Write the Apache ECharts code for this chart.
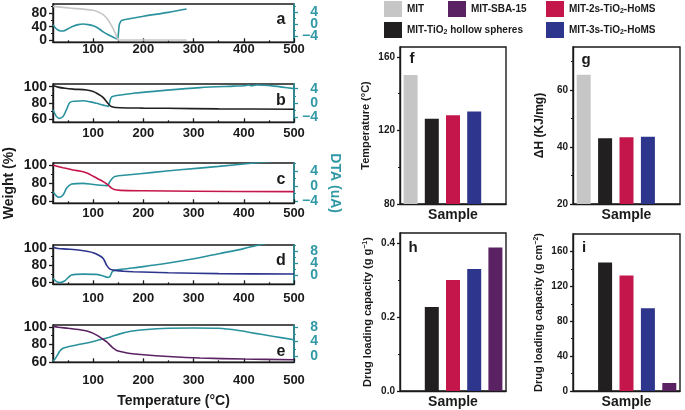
<!DOCTYPE html>
<html><head><meta charset="utf-8">
<script src="https://cdn.jsdelivr.net/npm/echarts@6/dist/echarts.min.js"></script>
<style>html,body{margin:0;padding:0;background:#fff}#c{width:685px;height:410px}</style>
</head><body><div id="c"></div>
<script>
const FONT = '"Liberation Sans", Arial, Helvetica, sans-serif';
const INK = '#1a1a1a';
const TEAL = '#2a929d';
const TEAL_TXT = '#3199a5';

// ---- samples / bar data ----
const sampleNames = ['MIT', 'MIT-TiO₂ hollow spheres', 'MIT-2s-TiO₂-HoMS', 'MIT-3s-TiO₂-HoMS', 'MIT-SBA-15'];
const sampleColors = ['#c6c6c6', '#221f20', '#c4164b', '#2d358c', '#5b2263'];
const peakTemperature = [150.2, 126.4, 128.3, 130.3, null];
const enthalpy = [65.3, 43.0, 43.4, 43.6, null];
const loadingPerGram = [null, 0.227, 0.300, 0.330, 0.388];
const loadingPerArea = [null, 147.3, 132.4, 94.8, 9.2];

// ---- tick labels ----
const tempTicks = [100, 200, 300, 400, 500];
const tempMinorTicks = [50, 150, 250, 350, 450];
const weightTicksA = [0, 40, 80];
const weightMinorA = [20, 60, 100];
const weightTicks = [60, 80, 100];
const weightMinor = [70, 90];
const dtaTicksNeg = [-4, 0, 4];
const dtaMinorNeg = [-2, 2, 6];
const dtaTicksPos = [0, 4, 8];
const dtaMinorPos = [2, 6, 10];
const tempBarTicks = [80, 120, 160];
const tempBarMinor = [100, 140];
const enthalpyTicks = [20, 40, 60];
const enthalpyMinor = [30, 50, 70];
const gramTicks = [0, 0.2, 0.4];
const gramMinor = [0.1, 0.3];
const areaTicks = [0, 40, 80, 120, 160];
const areaMinor = [20, 60, 100, 140];

// ---- TG (weight %) and DTA curves: [temperature °C, value] ----
const tgA = [[20,101],[30,99.5],[40,98],[50,96.5],[60,95],[80,92.5],[100,89],[110,84],[120,76],[127,65],[134,50],[140,33],[144,20],[148,5],[150,0],[200,0],[286,0]];
const dtaA = [[20,-0.2],[25,-1.2],[30,-1.9],[35,-2.2],[40,-2.2],[50,-1.5],[60,-0.6],[70,-0.1],[80,0.1],[90,-0.1],[100,-0.5],[110,-1.3],[120,-2.5],[130,-3.5],[140,-4.3],[148,-4.9],[150,-3.5],[152,-0.2],[155,1.0],[158,1.4],[170,1.8],[200,2.7],[250,4.0],[286,5.1]];
const tgB = [[20,101.5],[30,99.5],[44,98],[60,97],[87,96],[100,94],[107,92],[115,89],[121,86],[126,82],[131,78.4],[137,75.5],[154,74.2],[200,73.7],[247,73.5],[350,72.8],[500,72.3]];
const dtaB = [[20,-1.9],[26,-3.6],[32,-4.3],[40,-3.8],[47,-1.8],[54,0.2],[65,0.5],[80,0.6],[95,0.3],[107,-0.1],[120,-0.6],[127,-0.8],[130,-1.0],[135,1.3],[140,1.9],[180,2.7],[247,3.6],[313,4.3],[380,4.7],[400,4.8],[410,5.0],[415,4.8],[425,5.0],[460,4.7],[500,4.0]];
const tgC = [[20,100],[30,98.3],[40,97],[50,95.8],[60,94.5],[80,92.5],[90,90.5],[100,87.5],[110,84.5],[120,81.5],[130,77.5],[136,74.5],[142,72.8],[154,71.8],[200,71.3],[300,70.8],[500,70.4]];
const dtaC = [[20,-1.5],[27,-2.7],[32,-3.0],[40,-2.4],[47,-0.6],[57,0.5],[80,0.7],[100,0.4],[115,0.2],[128,0.1],[133,1.1],[138,2.0],[143,2.5],[167,2.9],[220,3.6],[273,4.3],[350,5.2],[420,6.1],[500,7.0]];
const tgD = [[20,101],[30,99.5],[47,98.8],[74,97.5],[90,96],[100,94.6],[110,92],[120,88],[127,80],[133,76],[140,74.5],[160,73.3],[180,72.7],[250,71.5],[350,70.5],[500,70]];
const dtaD = [[20,-0.9],[27,-2.0],[33,-2.3],[43,-1.8],[57,0.2],[80,0.5],[107,0.4],[120,-0.1],[128,-0.6],[133,-0.4],[138,1.3],[143,1.8],[160,2.2],[200,3.0],[247,4.1],[300,5.6],[350,7.3],[400,9.0],[430,10.2],[500,12.6]];
const tgE = [[20,101],[30,99.8],[50,98.5],[80,96.3],[95,94],[107,90.7],[117,87],[127,83],[134,79],[140,75.7],[147,73.2],[154,71.9],[170,70],[200,68.2],[250,66.2],[313,64.5],[400,63.3],[500,62.6]];
const dtaE = [[20,-1.2],[24,-0.7],[29,0.4],[34,1.5],[40,2.2],[50,2.6],[67,3.1],[90,3.7],[113,4.5],[133,5.2],[153,6.1],[175,6.8],[207,7.3],[250,7.6],[300,7.7],[350,7.6],[390,7.0],[420,6.3],[460,5.4],[500,4.5]];

const leftPanels = [
  {top:4,   height:38.3, tg:tgA, dta:dtaA, wMin:-7,   wMax:108,   wTicks:weightTicksA, wMinor:weightMinorA, dMin:-6,   dMax:6.8,  dTicks:dtaTicksNeg, dMinor:dtaMinorNeg, xm:1,  letter:'a', ly:20},
  {top:84,  height:38.3, tg:tgB, dta:dtaB, wMin:56.3, wMax:103.3, wTicks:weightTicks,  wMinor:weightMinor,  dMin:-5.4, dMax:5.3,  dTicks:dtaTicksNeg, dMinor:dtaMinorNeg, xm:5,  letter:'b', ly:101},
  {top:163, height:40.3, tg:tgC, dta:dtaC, wMin:57.4, wMax:102.2, wTicks:weightTicks,  wMinor:weightMinor,  dMin:-4.6, dMax:6.1,  dTicks:dtaTicksNeg, dMinor:dtaMinorNeg, xm:4,  letter:'c', ly:180},
  {top:245, height:39.3, tg:tgD, dta:dtaD, wMin:58.2, wMax:103.5, wTicks:weightTicks,  wMinor:weightMinor,  dMin:-2.9, dMax:10.2, dTicks:dtaTicksPos, dMinor:dtaMinorPos, xm:8,  letter:'d', ly:261},
  {top:325, height:37.3, tg:tgE, dta:dtaE, wMin:59.6, wMax:102.3, wTicks:weightTicks,  wMinor:weightMinor,  dMin:-1.6, dMax:8.5,  dTicks:dtaTicksPos, dMinor:dtaMinorPos, xm:12, letter:'e', ly:352}
];

const barPanels = [
  {left:400, top:47,  width:106, height:157, values:peakTemperature, min:80, max:165.4, ticks:tempBarTicks, minor:tempBarMinor, name:'Temperature (°C)', nameGap:29, nameSize:11, letter:'f', lx:412, ly:59, dec:0},
  {left:573, top:47,  width:107, height:157, values:enthalpy,        min:20, max:75,    ticks:enthalpyTicks, minor:enthalpyMinor, name:'ΔH (KJ/mg)', nameGap:27, nameSize:12, letter:'g', lx:586, ly:60, dec:0},
  {left:400, top:233, width:106, height:158, values:loadingPerGram,  min:0,  max:0.427, ticks:gramTicks, minor:gramMinor, name:'Drug loading capacity (g g{sup|−1})', nameGap:27, nameSize:11, letter:'h', lx:413, ly:248, dec:1},
  {left:573, top:234, width:107, height:157, values:loadingPerArea,  min:0,  max:180,   ticks:areaTicks, minor:areaMinor, name:'Drug loading capacity (g cm{sup|−2})', nameGap:29, nameSize:11, letter:'i', lx:584, ly:248, dec:0}
];

const within = (arr, lo, hi) => arr.filter(v => v >= lo && v <= hi);
const evens = arr => arr.filter((_, k) => k % 2 === 0);
const odds = arr => arr.filter((_, k) => k % 2 === 1);
const fmtNum = v => (v < 0 ? '−' + Math.abs(v) : String(v));
const boldText = (size, color) => ({fontFamily: FONT, fontWeight: 'bold', fontSize: size, color: color || INK});
const labelBase = {hideOverlap:false, showMinLabel:true, showMaxLabel:true};

const option = {
  animation: false,
  backgroundColor: '#fff',
  textStyle: {fontFamily: FONT},
  grid: [], xAxis: [], yAxis: [], series: [], legend: [], graphic: []
};
const addX = a => (option.xAxis.push(a), option.xAxis.length - 1);
const addY = a => (option.yAxis.push(a), option.yAxis.length - 1);

// A value y-axis whose labels are split over two stacked axes so that
// tightly spaced labels are never dropped by overlap handling.
function addValueY(gi, min, max, pos, ticks, minor, color, label, extra) {
  const main = addY(Object.assign({
    type:'value', gridIndex:gi, min, max, position:pos,
    axisLine:{show:true, onZero:false, lineStyle:{color, width:1.4}},
    axisTick:{show:true, length:label.tick, customValues:ticks, lineStyle:{color, width:1.3}},
    axisLabel:Object.assign({customValues:evens(ticks)}, labelBase, label.style),
    splitLine:{show:false}
  }, extra || {}));
  addY({
    type:'value', gridIndex:gi, min, max, position:pos,
    axisLine:{show:false, onZero:false}, axisTick:{show:false},
    axisLabel:Object.assign({customValues:odds(ticks)}, labelBase, label.style),
    splitLine:{show:false}
  });
  addY({
    type:'value', gridIndex:gi, min, max, position:pos,
    axisLine:{show:false, onZero:false},
    axisTick:{show:true, length:2, customValues:within(minor, min, max), lineStyle:{color, width:1.2}},
    axisLabel:{show:false}, splitLine:{show:false}
  });
  return main;
}

// ---- left TG/DTA panels ----
leftPanels.forEach((p, i) => {
  option.grid.push({left:53, width:241, top:p.top, height:p.height, show:true, borderColor:INK, borderWidth:1.4, backgroundColor:'transparent'});
  const xMain = {
    type:'value', gridIndex:i, min:20, max:500, position:'bottom',
    axisLine:{show:true, onZero:false, lineStyle:{color:INK, width:1.4}},
    axisTick:{show:true, inside:true, length:4, customValues:tempTicks, lineStyle:{color:INK, width:1.3}},
    axisLabel:Object.assign({show:true, customValues:tempTicks, margin:p.xm}, labelBase, boldText(13)),
    splitLine:{show:false}
  };
  if (i === 4) {
    Object.assign(xMain, {name:'Temperature (°C)', nameLocation:'middle', nameGap:32, nameTextStyle:boldText(14)});
  }
  const xi = addX(xMain);
  addX({
    type:'value', gridIndex:i, min:20, max:500, position:'bottom',
    axisLine:{show:false, onZero:false},
    axisTick:{show:true, inside:true, length:2, customValues:tempMinorTicks, lineStyle:{color:INK, width:1.2}},
    axisLabel:{show:false}, splitLine:{show:false}
  });
  const yw = addValueY(i, p.wMin, p.wMax, 'left', p.wTicks, p.wMinor, INK,
    {tick:4, style:Object.assign({margin:6}, boldText(14))},
    i === 2 ? {name:'Weight (%)', nameLocation:'middle', nameGap:37, nameTextStyle:boldText(14)} : null);
  const yd = addValueY(i, p.dMin, p.dMax, 'right', p.dTicks, p.dMinor, TEAL,
    {tick:4, style:Object.assign({margin:24, align:'right', formatter:fmtNum}, boldText(14, TEAL_TXT))},
    i === 2 ? {name:'DTA (uA)', nameLocation:'middle', nameRotate:-90, nameGap:34, nameTextStyle:boldText(14, TEAL_TXT)} : null);
  option.yAxis[yd].axisLine.lineStyle.width = 1.5;
  option.series.push({
    type:'line', xAxisIndex:xi, yAxisIndex:yw, data:p.tg, symbol:'none', smooth:0.3, clip:true,
    lineStyle:{color:sampleColors[i], width:1.6}, z:3
  });
  option.series.push({
    type:'line', xAxisIndex:xi, yAxisIndex:yd, data:p.dta, symbol:'none', smooth:0.3, clip:true,
    lineStyle:{color:TEAL, width:1.6}, z:2
  });
  option.graphic.push({type:'text', x:281, y:p.ly, z:10, style:{text:p.letter, textAlign:'center', textVerticalAlign:'middle', fill:INK, font:'bold 16px ' + FONT}});
});

// ---- right bar panels ----
barPanels.forEach((p, j) => {
  const gi = 5 + j;
  option.grid.push({left:p.left, width:p.width, top:p.top, height:p.height, show:true, borderColor:INK, borderWidth:1.4, backgroundColor:'transparent'});
  const xi = addX({
    type:'category', gridIndex:gi, data:sampleNames, position:'bottom',
    axisLine:{show:true, onZero:false, lineStyle:{color:INK, width:1.4}},
    axisTick:{show:false}, axisLabel:{show:false}, splitLine:{show:false},
    name:'Sample', nameLocation:'middle', nameGap:4, nameTextStyle:Object.assign({verticalAlign:'top'}, boldText(14))
  });
  const yi = addValueY(gi, p.min, p.max, 'left', p.ticks, p.minor, INK,
    {tick:3, style:Object.assign({margin:5, formatter:v => v.toFixed(p.dec)}, boldText(10))},
    {name:p.name, nameLocation:'middle', nameGap:p.nameGap,
     nameTextStyle:Object.assign({rich:{sup:{fontFamily:FONT, fontWeight:'bold', fontSize:7, lineHeight:8, verticalAlign:'top', color:INK}}}, boldText(p.nameSize))});
  sampleNames.forEach((nm, k) => {
    if (p.values[k] == null) return;
    option.series.push({
      type:'bar', name:nm, xAxisIndex:xi, yAxisIndex:yi, stack:'panel' + j, barWidth:14,
      data:sampleNames.map((_, m) => (m === k ? p.values[k] : '-')),
      itemStyle:{color:sampleColors[k]}
    });
  });
  option.graphic.push({type:'text', x:p.lx, y:p.ly, z:10, style:{text:p.letter, textAlign:'center', textVerticalAlign:'middle', fill:INK, font:'bold 15px ' + FONT}});
});

// ---- legend (one component per entry) ----
const legendSpots = [[384, 1], [384, 22], [546, 1], [546, 22], [448, 1]];
sampleNames.forEach((nm, k) => {
  option.legend.push({
    data:[nm], left:legendSpots[k][0], top:legendSpots[k][1], padding:0, icon:'rect',
    itemWidth:18, itemHeight:16, selectedMode:false,
    formatter:n => n.replace(/TiO₂/g, 'TiO{s|2}'),
    textStyle:{fontFamily:FONT, fontWeight:'bold', fontSize:10, color:INK, lineHeight:12,
      rich:{s:{fontFamily:FONT, fontWeight:'bold', fontSize:7, lineHeight:8, verticalAlign:'bottom', color:INK}}}
  });
});

const chart = echarts.init(document.getElementById('c'), null, {renderer:'canvas'});
chart.setOption(option);
</script>
</body></html>
